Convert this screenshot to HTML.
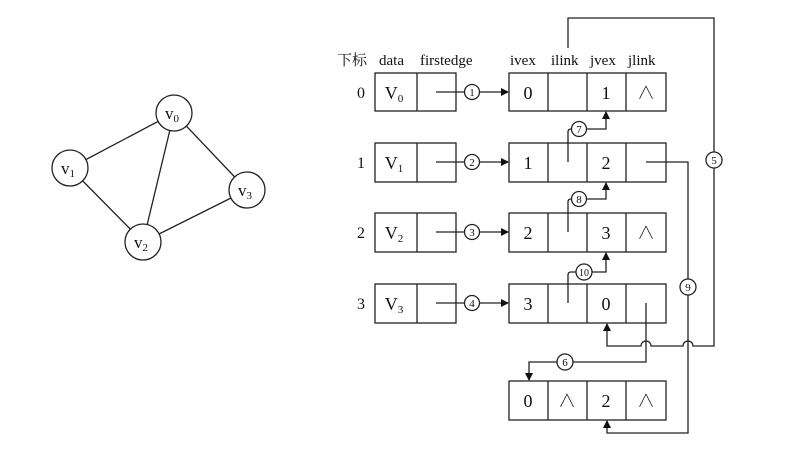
<!DOCTYPE html>
<html><head><meta charset="utf-8"><style>
html,body{margin:0;padding:0;background:#fff;}
svg{display:block;}
text{font-family:"Liberation Serif","Noto Serif CJK SC",serif;fill:#111;}
</style></head><body>
<svg width="795" height="463" viewBox="0 0 795 463" xmlns="http://www.w3.org/2000/svg">
<defs><marker id="a" markerWidth="8" markerHeight="8" refX="7" refY="4" orient="auto" markerUnits="userSpaceOnUse"><path d="M0,0 L8,4 L0,8 z" fill="#111"/></marker></defs>
<g stroke="#222" stroke-width="1.3" fill="none">
<!-- graph -->
<line x1="174" y1="113" x2="70" y2="168"/><line x1="174" y1="113" x2="143" y2="242"/><line x1="174" y1="113" x2="247" y2="190"/><line x1="70" y1="168" x2="143" y2="242"/><line x1="143" y1="242" x2="247" y2="190"/>
<circle cx="174" cy="113" r="18" fill="#fff"/><circle cx="70" cy="168" r="18" fill="#fff"/><circle cx="143" cy="242" r="18" fill="#fff"/><circle cx="247" cy="190" r="18" fill="#fff"/>
<!-- vertex table -->
<rect x="375" y="73" width="81" height="38"/><line x1="417" y1="73" x2="417" y2="111"/>
<rect x="375" y="143" width="81" height="39"/><line x1="417" y1="143" x2="417" y2="182"/>
<rect x="375" y="213" width="81" height="39"/><line x1="417" y1="213" x2="417" y2="252"/>
<rect x="375" y="284" width="81" height="39"/><line x1="417" y1="284" x2="417" y2="323"/>
<!-- edge rows -->
<rect x="509" y="73" width="157" height="38"/><line x1="548" y1="73" x2="548" y2="111"/><line x1="587" y1="73" x2="587" y2="111"/><line x1="626" y1="73" x2="626" y2="111"/>
<rect x="509" y="143" width="157" height="39"/><line x1="548" y1="143" x2="548" y2="182"/><line x1="587" y1="143" x2="587" y2="182"/><line x1="626" y1="143" x2="626" y2="182"/>
<rect x="509" y="213" width="157" height="39"/><line x1="548" y1="213" x2="548" y2="252"/><line x1="587" y1="213" x2="587" y2="252"/><line x1="626" y1="213" x2="626" y2="252"/>
<rect x="509" y="284" width="157" height="39"/><line x1="548" y1="284" x2="548" y2="323"/><line x1="587" y1="284" x2="587" y2="323"/><line x1="626" y1="284" x2="626" y2="323"/>
<rect x="509" y="381" width="157" height="39"/><line x1="548" y1="381" x2="548" y2="420"/><line x1="587" y1="381" x2="587" y2="420"/><line x1="626" y1="381" x2="626" y2="420"/>
<!-- firstedge arrows -->
<line x1="436" y1="92" x2="508" y2="92" marker-end="url(#a)"/>
<line x1="436" y1="162" x2="508" y2="162" marker-end="url(#a)"/>
<line x1="436" y1="232" x2="508" y2="232" marker-end="url(#a)"/>
<line x1="436" y1="303" x2="508" y2="303" marker-end="url(#a)"/>
<!-- 7,8,10 -->
<path d="M568,162 V132 Q568,129 571,129 H606 V112" marker-end="url(#a)"/>
<path d="M568,232 V202 Q568,199 571,199 H606 V183" marker-end="url(#a)"/>
<path d="M568,303 V275 Q568,272 571,272 H606 V253" marker-end="url(#a)"/>
<!-- 5 -->
<path d="M568,48 V18 H714 V346 H693 a5,5 0 0 0 -10,0 H651 a5,5 0 0 0 -10,0 H607 V324" marker-end="url(#a)"/>
<!-- 9 -->
<path d="M646,162 H688 V433 H607 V421" marker-end="url(#a)"/>
<!-- 6 -->
<path d="M646,303 V362 H529 V380" marker-end="url(#a)"/>
<!-- circled numbers -->
<g fill="#fff">
<circle cx="472" cy="92" r="7.5"/><circle cx="472" cy="162" r="7.5"/><circle cx="472" cy="232" r="7.5"/><circle cx="472" cy="303" r="7.5"/>
<circle cx="579" cy="129" r="7.5"/><circle cx="579" cy="199" r="7.5"/><circle cx="584" cy="272" r="8"/>
<circle cx="714" cy="160" r="8"/><circle cx="688" cy="287" r="8"/><circle cx="565" cy="362" r="8"/>
</g>
</g>
<g font-size="11" text-anchor="middle">
<text x="472" y="96">1</text><text x="472" y="166">2</text><text x="472" y="236">3</text><text x="472" y="307">4</text>
<text x="579" y="133">7</text><text x="579" y="203">8</text><text x="584" y="276" font-size="10">10</text>
<text x="714" y="164">5</text><text x="688" y="291">9</text><text x="565" y="366">6</text>
</g>
<!-- graph labels -->
<g font-size="17" text-anchor="middle">
<text x="172" y="119">v<tspan font-size="11" dy="3">0</tspan></text>
<text x="68" y="174">v<tspan font-size="11" dy="3">1</tspan></text>
<text x="141" y="248">v<tspan font-size="11" dy="3">2</tspan></text>
<text x="245" y="196">v<tspan font-size="11" dy="3">3</tspan></text>
</g>
<!-- headers -->
<g font-size="15">
<text x="337" y="65">下标</text><text x="379" y="65">data</text><text x="420" y="65">firstedge</text>
<text x="510" y="65">ivex</text><text x="551" y="65">ilink</text><text x="590" y="65">jvex</text><text x="628" y="65">jlink</text>
</g>
<g font-size="16" text-anchor="middle">
<text x="361" y="98">0</text><text x="361" y="168">1</text><text x="361" y="238">2</text><text x="361" y="309">3</text>
</g>
<g font-size="18" text-anchor="middle">
<text x="394" y="99">V<tspan font-size="11" dy="3">0</tspan></text>
<text x="394" y="169">V<tspan font-size="11" dy="3">1</tspan></text>
<text x="394" y="239">V<tspan font-size="11" dy="3">2</tspan></text>
<text x="394" y="310">V<tspan font-size="11" dy="3">3</tspan></text>
<text x="528" y="99">0</text><text x="606" y="99">1</text><text x="646" y="99">∧</text>
<text x="528" y="169">1</text><text x="606" y="169">2</text>
<text x="528" y="239">2</text><text x="606" y="239">3</text><text x="646" y="239">∧</text>
<text x="528" y="310">3</text><text x="606" y="310">0</text>
<text x="528" y="407">0</text><text x="567" y="407">∧</text><text x="606" y="407">2</text><text x="646" y="407">∧</text>
</g>
</svg>
</body></html>
